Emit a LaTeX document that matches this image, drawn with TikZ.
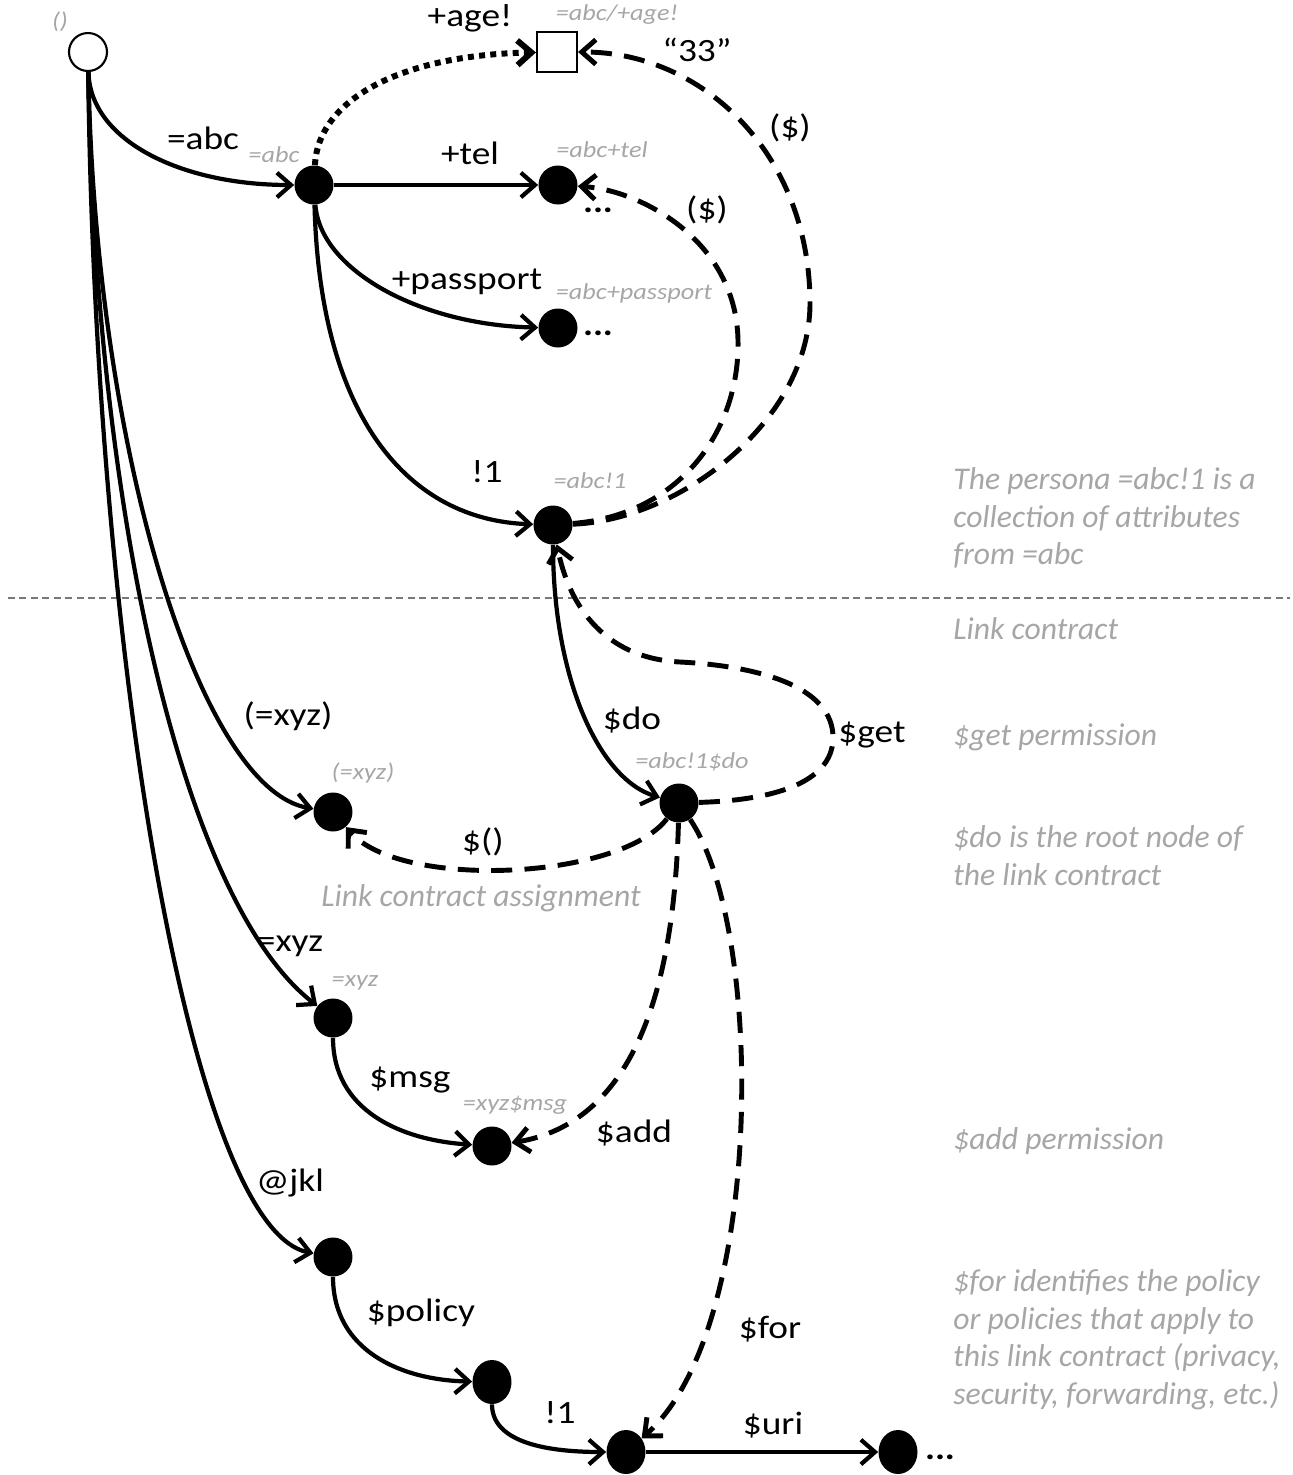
\documentclass[tikz,border=0pt]{standalone}
\usepackage{fontspec}
\setmainfont{Carlito}
\newfontfamily\lblfont{Carlito}[FakeStretch=1.15]
\usetikzlibrary{arrows.meta,shapes.geometric}
\definecolor{noteGray}{RGB}{166,166,166}
\definecolor{sepGray}{RGB}{120,120,120}

\begin{document}
\begin{tikzpicture}[x=0.02cm,y=-0.02cm]
\tikzset{
  dot style/.style={shape=circle,fill=black,inner sep=0pt,minimum size=0.78cm},
  oval style/.style={shape=ellipse,fill=black,inner sep=0pt,minimum width=0.78cm,minimum height=0.88cm},
  root style/.style={shape=circle,draw=black,fill=white,line width=1.2pt,inner sep=0pt,minimum size=0.76cm},
  box style/.style={shape=rectangle,draw=black,fill=white,line width=1.2pt,inner sep=0pt,minimum size=0.8cm},
  arc style/.style={line width=2.4pt,-{Straight Barb[length=8pt,width=14pt]}},
  ref style/.style={arc style,line width=2.8pt,dash pattern=on 12pt off 7pt},
  lit style/.style={arc style,line width=3.4pt,dash pattern=on 3.4pt off 3pt},
  lbl/.style={font=\lblfont\fontsize{18.5pt}{22pt}\selectfont,inner sep=1pt},
  tag/.style={font=\lblfont\itshape\fontsize{13pt}{15pt}\selectfont,text=noteGray,inner sep=1pt},
  note/.style={font=\itshape\fontsize{18pt}{21.5pt}\selectfont,text=noteGray,align=left,anchor=north west,inner sep=0pt}
}
\useasboundingbox (0,0) rectangle (1293,1475);

% graph nodes
\node[root style] at (88,52)     (root) {};
\node[dot style]  at (314,185)   (abc)  {};
\node[box style]  at (557,52)    (age)  {};
\node[dot style]  at (558,185)   (tel)  {};
\node[dot style]  at (558,328)   (pass) {};
\node[dot style]  at (553,525)   (pers) {};
\node[dot style]  at (333,812)   (xyzp) {};
\node[dot style]  at (679,803)   (do)   {};
\node[dot style]  at (333,1018)  (xyz)  {};
\node[dot style]  at (492,1146)  (msg)  {};
\node[dot style]  at (333,1257)  (jkl)  {};
\node[oval style] at (492,1382)  (pol)  {};
\node[oval style] at (626,1452)  (for)  {};
\node[oval style] at (898,1452)  (uri)  {};

% divider
\draw[sepGray,line width=0.6pt,dash pattern=on 4pt off 2.5pt] (8,598) -- (1290,598);

% solid arcs
\draw[arc style] (root) .. controls (90,140) and (180,185) .. (abc);
\draw[arc style] (root) .. controls (95,450) and (200,790) .. (xyzp);
\draw[arc style] (root) .. controls (95,500) and (180,900) .. (xyz);
\draw[arc style] (root) .. controls (95,650) and (190,1230) .. (jkl);
\draw[arc style] (abc) -- (tel);
\draw[arc style] (abc) .. controls (320,270) and (420,325) .. (pass);
\draw[arc style] (abc) .. controls (320,420) and (410,520) .. (pers);
\draw[arc style] (pers) .. controls (553,680) and (600,780) .. (do);
\draw[arc style] (xyz) .. controls (333,1110) and (400,1140) .. (msg);
\draw[arc style] (jkl) .. controls (333,1350) and (400,1380) .. (pol);
\draw[arc style] (pol) .. controls (492,1440) and (540,1452) .. (for);
\draw[arc style] (for) -- (uri);
\draw[lit style] (abc) .. controls (318,100) and (400,55) .. (age);

% dashed references
\draw[ref style] (pers) .. controls (680,520) and (812,420) .. (810,300)
                        .. controls (808,150) and (700,52) .. (age);
\draw[ref style] (pers) .. controls (680,515) and (740,430) .. (738,340)
                        .. controls (736,240) and (640,190) .. (tel);
\draw[ref style] (do) .. controls (780,800) and (835,780) .. (833,735)
                      .. controls (830,680) and (740,665) .. (680,662)
                      .. controls (600,658) and (568,600) .. (pers);
\draw[ref style] (do) .. controls (620,880) and (400,890) .. (xyzp);
\draw[ref style] (do) .. controls (675,950) and (650,1120) .. (msg);
\draw[ref style] (do) .. controls (765,930) and (765,1330) .. (for);

% arc labels
\node[lbl] (lAge)  at (470,18)   {+age!};
\node[lbl] (l33)   at (697,50)   {“33”};
\node[lbl] (lRef1) at (790,128)  {(\$)};
\node[lbl] (lAbc)  at (203,138)  {=abc};
\node[lbl] (lTel)  at (470,153)  {+tel};
\node[lbl] (lRef2) at (707,210)  {(\$)};
\node[lbl] (lPass) at (467,282)  {+passport};
\node[lbl] (lOne)  at (487,472)  {!1};
\node[lbl] (lXyzp) at (288,716)  {(=xyz)};
\node[lbl] (lDo)   at (632,720)  {\$do};
\node[lbl] (lGet)  at (872,735)  {\$get};
\node[lbl] (lAsg)  at (483,842)  {\$()};
\node[lbl] (lXyz)  at (290,946)  {=xyz};
\node[lbl] (lMsg)  at (410,1080) {\$msg};
\node[lbl] (lAdd)  at (634,1133) {\$add};
\node[lbl] (lJkl)  at (290,1183) {@jkl};
\node[lbl] (lPol)  at (421,1313) {\$policy};
\node[lbl] (lFor)  at (770,1329) {\$for};
\node[lbl] (lOne2) at (560,1413) {!1};
\node[lbl] (lUri)  at (773,1425) {\$uri};
\node[lbl] (dTel)  at (598,210)  {\textbf{...}};
\node[lbl] (dPass) at (598,333)  {\textbf{...}};
\node[lbl] (dUri)  at (940,1457) {\textbf{...}};

% node names
\node[tag] (tRoot) at (60,22)    {()};
\node[tag] (tAbc)  at (274,155)  {=abc};
\node[tag] (tAge)  at (617,15)   {=abc/+age!};
\node[tag] (tTel)  at (602,150)  {=abc+tel};
\node[tag] (tPass) at (634,293)  {=abc+passport};
\node[tag] (tPers) at (590,481)  {=abc!1};
\node[tag] (tXyzp) at (363,773)  {(=xyz)};
\node[tag] (tDo)   at (692,762)  {=abc!1\$do};
\node[tag] (tXyz)  at (355,983)  {=xyz};
\node[tag] (tMsg)  at (515,1105) {=xyz\$msg};

% notes
\node[note,anchor=center,align=center] (nAsg) at (481,898) {Link contract assignment};
\node[note] (n1) at (953,467)  {The persona =abc!1 is a\\collection of attributes\\from =abc};
\node[note] (n2) at (953,617)  {Link contract};
\node[note] (n3) at (953,723)  {\$get permission};
\node[note] (n4) at (953,825)  {\$do is the root node of\\the link contract};
\node[note] (n5) at (953,1127) {\$add permission};
\node[note] (n6) at (953,1269) {\$for identifies the policy\\or policies that apply to\\this link contract (privacy,\\security, forwarding, etc.)};
\end{tikzpicture}
\end{document}
